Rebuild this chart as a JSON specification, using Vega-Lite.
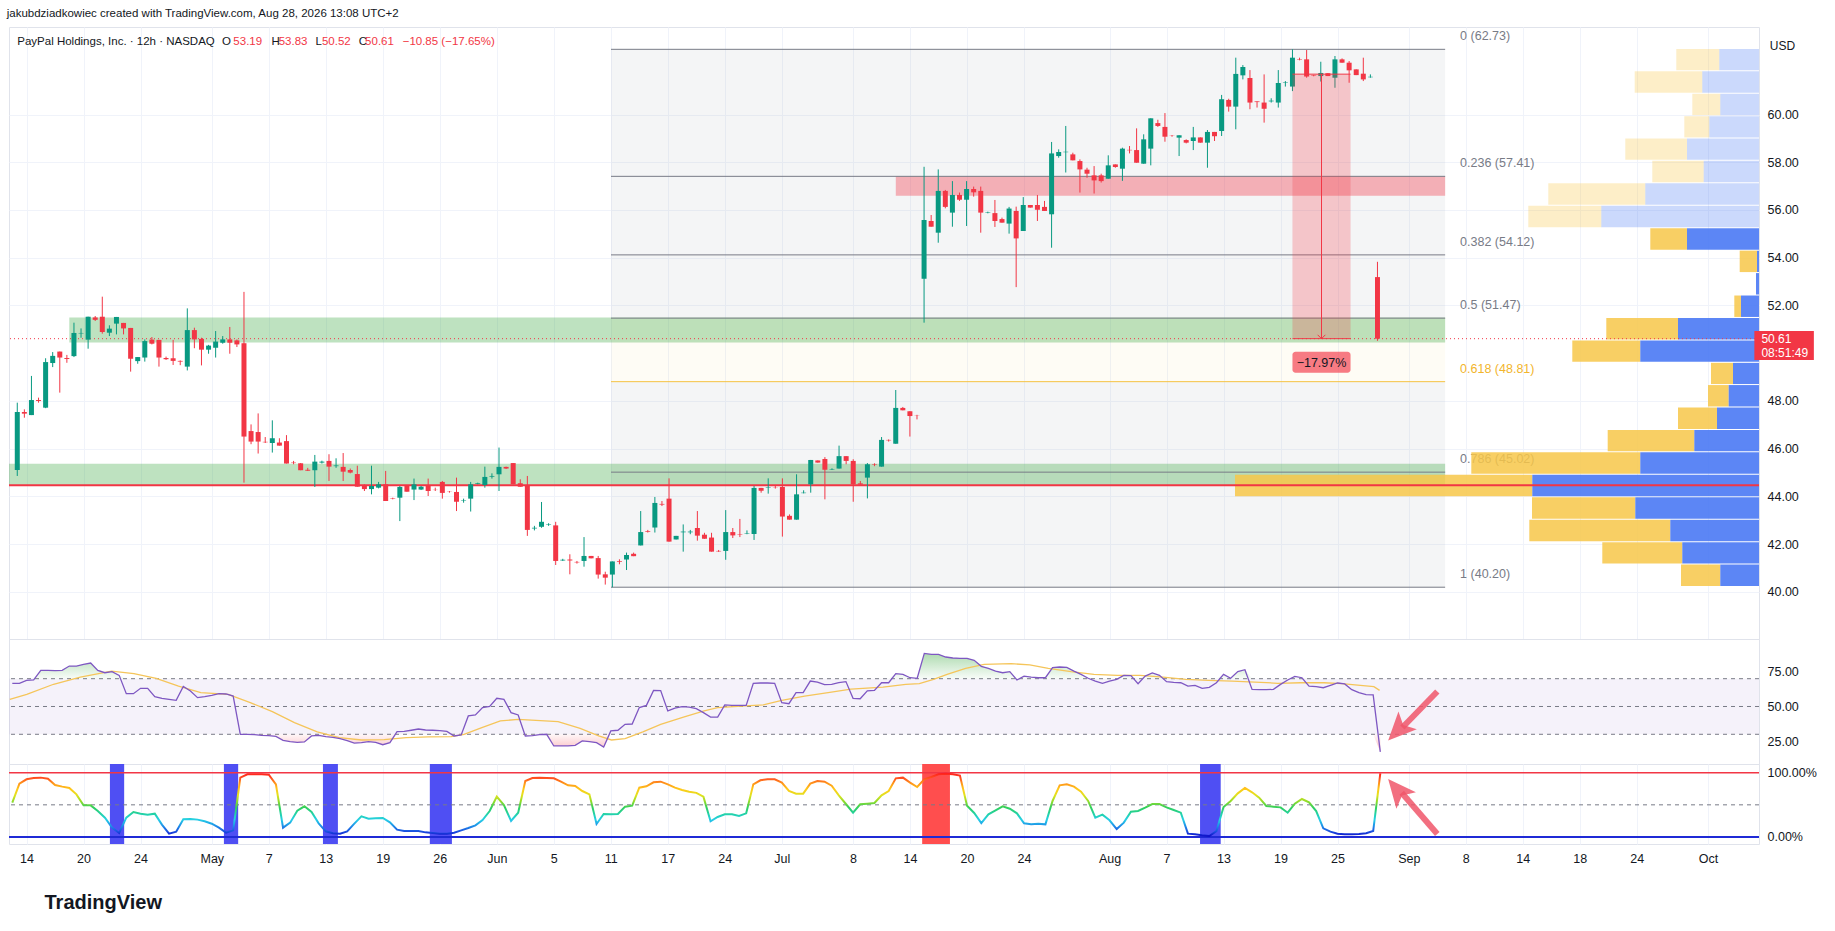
{
  "$schema": "https://vega.github.io/schema/vega-lite/v6.json",
  "background": "#ffffff",
  "padding": {"left": 6, "top": 8, "right": 0, "bottom": 0},
  "title": {"text": "jakubdziadkowiec created with TradingView.com, Aug 28, 2026 13:08 UTC+2", "anchor": "start", "fontSize": 11.5, "fontWeight": "normal", "color": "#131722", "offset": 7},
  "config": {
    "view": {"stroke": "#e0e3eb"},
    "font": "Liberation Sans",
    "axis": {"labelColor": "#131722", "labelFontSize": 12.5, "gridColor": "#f0f3fa", "domain": false, "ticks": false, "labelOverlap": false}
  },
  "spacing": 0,
  "bounds": "flush",
  "resolve": {"scale": {"x": "independent", "y": "independent"}},
  "datasets": {
    "bars": [
      {"i":1,"o":45.11,"h":47.93,"l":44.86,"c":47.54,"r":66.7,"k":53.4},
      {"i":2,"o":47.54,"h":47.65,"l":47.30,"c":47.47,"r":66.7,"k":82.9},
      {"i":3,"o":47.41,"h":49.05,"l":47.41,"c":48.04,"r":68.8,"k":89.7},
      {"i":4,"o":48.04,"h":48.14,"l":47.93,"c":48.00,"r":69.1,"k":91.7},
      {"i":5,"o":47.72,"h":49.79,"l":47.70,"c":49.63,"r":76.0,"k":92.3},
      {"i":6,"o":49.59,"h":50.05,"l":49.42,"c":49.89,"r":76.0,"k":90.7},
      {"i":7,"o":50.07,"h":50.07,"l":48.35,"c":49.82,"r":75.8,"k":80.8},
      {"i":8,"o":49.80,"h":49.93,"l":49.60,"c":49.76,"r":76.0,"k":78.3},
      {"i":9,"o":49.88,"h":51.28,"l":49.84,"c":50.85,"r":79.1,"k":76.2},
      {"i":10,"o":50.83,"h":51.04,"l":50.65,"c":50.85,"r":79.1,"k":66.3},
      {"i":11,"o":50.57,"h":51.53,"l":50.19,"c":51.53,"r":80.3,"k":49.2},
      {"i":12,"o":51.50,"h":51.56,"l":51.35,"c":51.40,"r":81.3,"k":49.2},
      {"i":13,"o":51.53,"h":52.37,"l":50.82,"c":50.89,"r":76.0,"k":40.4},
      {"i":14,"o":50.86,"h":51.17,"l":50.72,"c":51.03,"r":74.3,"k":30.0},
      {"i":15,"o":51.24,"h":51.52,"l":50.79,"c":51.52,"r":75.1,"k":14.5},
      {"i":16,"o":51.27,"h":51.27,"l":50.79,"c":51.04,"r":72.4,"k":6.2},
      {"i":17,"o":51.06,"h":51.06,"l":49.23,"c":49.77,"r":59.2,"k":30.0},
      {"i":18,"o":49.67,"h":49.84,"l":49.56,"c":49.84,"r":59.2,"k":38.9},
      {"i":19,"o":49.82,"h":50.58,"l":49.65,"c":50.51,"r":63.1,"k":36.3},
      {"i":20,"o":50.57,"h":50.68,"l":50.37,"c":50.40,"r":63.1,"k":34.7},
      {"i":21,"o":50.56,"h":50.56,"l":49.44,"c":49.82,"r":57.1,"k":36.3},
      {"i":22,"o":49.80,"h":49.86,"l":49.72,"c":49.75,"r":55.9,"k":19.2},
      {"i":23,"o":49.79,"h":50.56,"l":49.51,"c":49.68,"r":55.1,"k":5.2},
      {"i":24,"o":49.68,"h":49.70,"l":49.50,"c":49.65,"r":54.4,"k":8.3},
      {"i":25,"o":49.44,"h":51.88,"l":49.28,"c":50.97,"r":64.5,"k":27.5},
      {"i":26,"o":50.97,"h":51.07,"l":50.21,"c":50.58,"r":61.2,"k":28.0},
      {"i":27,"o":50.60,"h":50.65,"l":49.49,"c":50.15,"r":56.4,"k":27.0},
      {"i":28,"o":50.15,"h":50.35,"l":49.98,"c":50.32,"r":57.1,"k":24.4},
      {"i":29,"o":50.23,"h":50.93,"l":49.82,"c":50.49,"r":58.0,"k":20.7},
      {"i":30,"o":50.44,"h":50.72,"l":50.40,"c":50.58,"r":59.2,"k":14.5},
      {"i":31,"o":50.58,"h":51.10,"l":49.98,"c":50.44,"r":59.0,"k":6.7},
      {"i":32,"o":50.54,"h":50.58,"l":50.26,"c":50.37,"r":57.5,"k":10.3},
      {"i":33,"o":50.42,"h":52.57,"l":44.58,"c":46.51,"r":30.0,"k":92.3},
      {"i":34,"o":46.74,"h":47.02,"l":46.19,"c":46.30,"r":30.0,"k":97.4},
      {"i":35,"o":46.70,"h":47.48,"l":45.80,"c":46.30,"r":29.7,"k":97.4},
      {"i":36,"o":46.29,"h":46.49,"l":46.24,"c":46.27,"r":29.2,"k":97.4},
      {"i":37,"o":46.24,"h":47.19,"l":45.84,"c":46.44,"r":29.0,"k":96.9},
      {"i":38,"o":46.26,"h":46.44,"l":46.13,"c":46.13,"r":28.5,"k":81.9},
      {"i":39,"o":46.32,"h":46.57,"l":45.38,"c":45.38,"r":25.7,"k":14.5},
      {"i":40,"o":45.42,"h":45.49,"l":45.35,"c":45.40,"r":24.7,"k":22.3},
      {"i":41,"o":45.39,"h":45.40,"l":45.10,"c":45.10,"r":24.2,"k":40.9},
      {"i":42,"o":45.12,"h":45.20,"l":45.07,"c":45.08,"r":24.5,"k":47.7},
      {"i":43,"o":45.10,"h":45.74,"l":44.40,"c":45.46,"r":28.8,"k":38.9},
      {"i":44,"o":45.42,"h":45.50,"l":45.38,"c":45.46,"r":29.2,"k":21.2},
      {"i":45,"o":45.49,"h":45.77,"l":44.65,"c":45.25,"r":28.3,"k":8.8},
      {"i":46,"o":45.27,"h":45.60,"l":45.20,"c":45.30,"r":27.8,"k":5.7},
      {"i":47,"o":45.24,"h":45.82,"l":44.65,"c":45.04,"r":26.9,"k":5.2},
      {"i":48,"o":45.11,"h":45.17,"l":44.97,"c":45.00,"r":25.4,"k":8.8},
      {"i":49,"o":44.94,"h":45.29,"l":44.41,"c":44.41,"r":23.7,"k":20.7},
      {"i":50,"o":44.44,"h":44.51,"l":44.23,"c":44.31,"r":24.0,"k":32.1},
      {"i":51,"o":44.31,"h":45.29,"l":44.09,"c":44.44,"r":24.7,"k":28.5},
      {"i":52,"o":44.37,"h":44.61,"l":44.34,"c":44.51,"r":24.2,"k":29.0},
      {"i":53,"o":44.51,"h":45.07,"l":43.81,"c":43.81,"r":22.5,"k":29.5},
      {"i":54,"o":43.92,"h":43.95,"l":43.88,"c":43.90,"r":24.0,"k":22.8},
      {"i":55,"o":43.95,"h":44.44,"l":42.97,"c":44.40,"r":31.9,"k":11.4},
      {"i":56,"o":44.45,"h":44.45,"l":44.20,"c":44.20,"r":32.1,"k":9.3},
      {"i":57,"o":44.29,"h":44.75,"l":43.85,"c":44.51,"r":32.9,"k":9.3},
      {"i":58,"o":44.29,"h":44.44,"l":44.27,"c":44.41,"r":33.8,"k":9.3},
      {"i":59,"o":44.47,"h":44.75,"l":44.02,"c":44.23,"r":33.1,"k":7.2},
      {"i":60,"o":44.28,"h":44.37,"l":44.23,"c":44.27,"r":32.9,"k":6.2},
      {"i":61,"o":44.61,"h":44.65,"l":43.91,"c":44.15,"r":32.6,"k":5.2},
      {"i":62,"o":44.20,"h":44.23,"l":44.16,"c":44.19,"r":32.1,"k":5.2},
      {"i":63,"o":44.19,"h":44.79,"l":43.39,"c":43.78,"r":28.8,"k":6.7},
      {"i":64,"o":43.82,"h":43.91,"l":43.74,"c":43.84,"r":29.5,"k":10.3},
      {"i":65,"o":43.91,"h":44.61,"l":43.37,"c":44.51,"r":43.2,"k":14.0},
      {"i":66,"o":44.53,"h":44.58,"l":44.51,"c":44.56,"r":43.9,"k":18.1},
      {"i":67,"o":44.48,"h":45.25,"l":44.37,"c":44.82,"r":49.2,"k":26.4},
      {"i":68,"o":44.83,"h":44.97,"l":44.75,"c":44.86,"r":50.1,"k":40.4},
      {"i":69,"o":44.93,"h":46.05,"l":44.23,"c":45.24,"r":55.9,"k":62.7},
      {"i":70,"o":45.24,"h":45.25,"l":45.15,"c":45.17,"r":55.1,"k":49.7},
      {"i":71,"o":45.40,"h":45.40,"l":44.51,"c":44.51,"r":45.6,"k":24.9},
      {"i":72,"o":44.55,"h":44.72,"l":44.41,"c":44.41,"r":43.9,"k":37.8},
      {"i":73,"o":44.47,"h":44.86,"l":42.35,"c":42.60,"r":28.8,"k":87.1},
      {"i":74,"o":42.66,"h":42.77,"l":42.58,"c":42.69,"r":29.0,"k":91.7},
      {"i":75,"o":42.73,"h":43.77,"l":42.69,"c":42.94,"r":29.7,"k":92.3},
      {"i":76,"o":42.81,"h":42.88,"l":42.77,"c":42.83,"r":30.0,"k":91.7},
      {"i":77,"o":42.79,"h":42.94,"l":41.13,"c":41.30,"r":21.6,"k":91.2},
      {"i":78,"o":41.32,"h":41.39,"l":41.30,"c":41.35,"r":21.6,"k":86.0},
      {"i":79,"o":41.36,"h":41.58,"l":40.74,"c":41.32,"r":21.6,"k":80.3},
      {"i":80,"o":41.26,"h":41.30,"l":41.19,"c":41.24,"r":22.1,"k":79.3},
      {"i":81,"o":41.30,"h":42.30,"l":41.06,"c":41.51,"r":25.2,"k":71.5},
      {"i":82,"o":41.51,"h":41.51,"l":41.41,"c":41.41,"r":24.7,"k":66.3},
      {"i":83,"o":41.42,"h":41.51,"l":40.56,"c":40.73,"r":24.0,"k":20.2},
      {"i":84,"o":40.74,"h":40.85,"l":40.31,"c":40.60,"r":20.9,"k":35.7},
      {"i":85,"o":40.73,"h":41.28,"l":40.20,"c":41.28,"r":32.4,"k":35.2},
      {"i":86,"o":41.29,"h":41.37,"l":41.16,"c":41.26,"r":32.9,"k":35.7},
      {"i":87,"o":41.36,"h":41.65,"l":40.92,"c":41.55,"r":37.2,"k":47.2},
      {"i":88,"o":41.60,"h":41.65,"l":41.50,"c":41.50,"r":37.4,"k":48.7},
      {"i":89,"o":41.95,"h":43.39,"l":41.95,"c":42.51,"r":49.2,"k":76.7},
      {"i":90,"o":42.55,"h":42.60,"l":42.49,"c":42.52,"r":50.8,"k":78.8},
      {"i":91,"o":42.70,"h":43.98,"l":42.49,"c":43.73,"r":61.6,"k":85.0},
      {"i":92,"o":43.69,"h":43.81,"l":43.60,"c":43.66,"r":61.4,"k":86.0},
      {"i":93,"o":43.91,"h":44.76,"l":42.11,"c":42.11,"r":46.8,"k":81.9},
      {"i":94,"o":42.20,"h":42.35,"l":42.20,"c":42.35,"r":48.9,"k":76.7},
      {"i":95,"o":42.50,"h":42.83,"l":41.69,"c":42.53,"r":49.9,"k":73.1},
      {"i":96,"o":42.50,"h":42.60,"l":42.42,"c":42.53,"r":49.6,"k":70.5},
      {"i":97,"o":42.68,"h":43.39,"l":42.15,"c":42.36,"r":48.4,"k":68.6},
      {"i":98,"o":42.40,"h":42.48,"l":42.23,"c":42.23,"r":45.6,"k":62.7},
      {"i":99,"o":42.28,"h":42.48,"l":41.69,"c":41.69,"r":42.4,"k":24.4},
      {"i":100,"o":41.72,"h":41.76,"l":41.68,"c":41.70,"r":42.4,"k":31.1},
      {"i":101,"o":41.72,"h":43.43,"l":41.35,"c":42.51,"r":51.1,"k":35.2},
      {"i":102,"o":42.51,"h":42.68,"l":42.26,"c":42.37,"r":50.8,"k":35.2},
      {"i":103,"o":42.43,"h":43.06,"l":42.30,"c":42.41,"r":50.8,"k":32.6},
      {"i":104,"o":42.44,"h":42.58,"l":42.42,"c":42.46,"r":50.8,"k":36.8},
      {"i":105,"o":42.43,"h":44.44,"l":42.18,"c":44.36,"r":66.7,"k":81.9},
      {"i":106,"o":44.36,"h":44.36,"l":44.16,"c":44.24,"r":66.9,"k":88.1},
      {"i":107,"o":44.36,"h":44.76,"l":44.12,"c":44.38,"r":66.9,"k":89.7},
      {"i":108,"o":44.39,"h":44.44,"l":44.33,"c":44.38,"r":66.7,"k":89.7},
      {"i":109,"o":44.40,"h":44.76,"l":42.32,"c":43.16,"r":52.8,"k":84.5},
      {"i":110,"o":43.19,"h":43.25,"l":43.03,"c":43.03,"r":52.0,"k":71.5},
      {"i":111,"o":43.03,"h":44.93,"l":43.03,"c":44.09,"r":60.0,"k":67.4},
      {"i":112,"o":44.14,"h":44.26,"l":44.13,"c":44.16,"r":60.0,"k":67.4},
      {"i":113,"o":44.51,"h":45.53,"l":44.16,"c":45.53,"r":68.3,"k":82.9},
      {"i":114,"o":45.51,"h":45.51,"l":45.42,"c":45.42,"r":67.6,"k":87.1},
      {"i":115,"o":45.57,"h":45.65,"l":43.88,"c":45.12,"r":65.7,"k":86.0},
      {"i":116,"o":45.13,"h":45.18,"l":45.11,"c":45.15,"r":65.9,"k":79.8},
      {"i":117,"o":45.17,"h":46.13,"l":45.17,"c":45.69,"r":67.1,"k":64.8},
      {"i":118,"o":45.69,"h":45.69,"l":45.35,"c":45.49,"r":67.9,"k":51.3},
      {"i":119,"o":45.49,"h":45.56,"l":43.78,"c":44.51,"r":55.9,"k":37.8},
      {"i":120,"o":44.55,"h":44.65,"l":44.50,"c":44.50,"r":55.6,"k":50.8},
      {"i":121,"o":44.79,"h":45.40,"l":43.92,"c":45.35,"r":61.2,"k":51.8},
      {"i":122,"o":45.35,"h":45.39,"l":45.27,"c":45.33,"r":61.6,"k":52.9},
      {"i":123,"o":45.25,"h":46.49,"l":45.25,"c":46.37,"r":67.1,"k":64.8},
      {"i":124,"o":46.37,"h":46.39,"l":46.30,"c":46.35,"r":67.1,"k":71.5},
      {"i":125,"o":46.21,"h":48.46,"l":46.21,"c":47.71,"r":73.6,"k":91.2},
      {"i":126,"o":47.71,"h":47.75,"l":47.61,"c":47.61,"r":73.1,"k":92.3},
      {"i":127,"o":47.57,"h":47.57,"l":46.51,"c":47.37,"r":70.7,"k":84.5},
      {"i":128,"o":47.41,"h":47.42,"l":47.23,"c":47.40,"r":70.3,"k":77.7},
      {"i":129,"o":53.12,"h":57.81,"l":51.28,"c":55.58,"r":88.2,"k":89.7},
      {"i":130,"o":55.54,"h":55.79,"l":55.30,"c":55.30,"r":87.5,"k":93.3},
      {"i":131,"o":55.05,"h":57.70,"l":54.63,"c":56.80,"r":87.5,"k":97.4},
      {"i":132,"o":56.80,"h":56.84,"l":56.07,"c":56.13,"r":85.6,"k":98.5},
      {"i":133,"o":55.89,"h":57.21,"l":55.30,"c":56.63,"r":84.9,"k":97.4},
      {"i":134,"o":56.63,"h":56.73,"l":56.38,"c":56.43,"r":84.6,"k":95.4},
      {"i":135,"o":56.43,"h":57.21,"l":55.33,"c":56.88,"r":84.6,"k":48.7},
      {"i":136,"o":56.88,"h":56.98,"l":56.56,"c":56.74,"r":83.2,"k":37.3},
      {"i":137,"o":56.80,"h":56.98,"l":55.05,"c":55.89,"r":78.9,"k":21.7},
      {"i":138,"o":55.88,"h":55.93,"l":55.86,"c":55.90,"r":77.5,"k":35.2},
      {"i":139,"o":55.87,"h":56.42,"l":55.29,"c":55.54,"r":75.5,"k":41.4},
      {"i":140,"o":55.62,"h":55.68,"l":55.47,"c":55.47,"r":74.3,"k":47.7},
      {"i":141,"o":55.43,"h":56.13,"l":55.01,"c":56.06,"r":75.1,"k":44.0},
      {"i":142,"o":55.96,"h":56.14,"l":52.77,"c":54.81,"r":69.1,"k":36.8},
      {"i":143,"o":55.12,"h":56.54,"l":55.12,"c":56.21,"r":71.9,"k":21.2},
      {"i":144,"o":56.21,"h":56.21,"l":56.10,"c":56.10,"r":71.2,"k":19.7},
      {"i":145,"o":56.21,"h":56.63,"l":55.54,"c":56.01,"r":70.7,"k":20.7},
      {"i":146,"o":56.13,"h":56.38,"l":55.96,"c":55.96,"r":70.7,"k":19.7},
      {"i":147,"o":55.82,"h":58.85,"l":54.42,"c":58.37,"r":77.9,"k":56.0},
      {"i":148,"o":58.26,"h":58.54,"l":58.19,"c":58.43,"r":78.4,"k":80.3},
      {"i":149,"o":58.42,"h":59.52,"l":57.57,"c":58.44,"r":78.2,"k":81.9},
      {"i":150,"o":58.33,"h":58.40,"l":58.08,"c":58.08,"r":75.5,"k":78.3},
      {"i":151,"o":58.05,"h":58.12,"l":56.73,"c":57.70,"r":73.1,"k":70.5},
      {"i":152,"o":57.69,"h":57.77,"l":57.35,"c":57.52,"r":70.3,"k":56.0},
      {"i":153,"o":57.45,"h":57.84,"l":56.69,"c":57.24,"r":68.3,"k":30.0},
      {"i":154,"o":57.45,"h":57.52,"l":57.15,"c":57.21,"r":66.7,"k":34.7},
      {"i":155,"o":57.31,"h":58.29,"l":57.31,"c":57.87,"r":68.3,"k":25.9},
      {"i":156,"o":57.91,"h":57.91,"l":57.77,"c":57.80,"r":69.5,"k":12.4},
      {"i":157,"o":57.73,"h":58.61,"l":57.22,"c":58.57,"r":72.4,"k":22.3},
      {"i":158,"o":58.52,"h":58.68,"l":58.37,"c":58.50,"r":72.2,"k":39.4},
      {"i":159,"o":58.51,"h":59.42,"l":57.98,"c":57.98,"r":66.4,"k":40.4},
      {"i":160,"o":57.94,"h":59.17,"l":57.94,"c":58.96,"r":71.9,"k":45.6},
      {"i":161,"o":58.57,"h":59.84,"l":57.87,"c":59.84,"r":74.1,"k":51.3},
      {"i":162,"o":59.64,"h":59.78,"l":59.48,"c":59.52,"r":72.4,"k":51.3},
      {"i":163,"o":59.48,"h":60.06,"l":58.86,"c":59.07,"r":67.9,"k":46.1},
      {"i":164,"o":59.12,"h":59.14,"l":59.07,"c":59.11,"r":67.4,"k":42.0},
      {"i":165,"o":59.03,"h":59.13,"l":58.26,"c":59.13,"r":67.1,"k":37.8},
      {"i":166,"o":58.93,"h":58.96,"l":58.79,"c":58.82,"r":64.7,"k":5.2},
      {"i":167,"o":58.89,"h":59.48,"l":58.51,"c":59.04,"r":65.2,"k":4.1},
      {"i":168,"o":59.04,"h":59.04,"l":58.82,"c":58.82,"r":63.1,"k":2.6},
      {"i":169,"o":58.82,"h":59.35,"l":57.77,"c":59.27,"r":63.8,"k":1.5},
      {"i":170,"o":59.27,"h":59.27,"l":58.89,"c":59.09,"r":67.1,"k":9.3},
      {"i":171,"o":59.31,"h":60.82,"l":59.10,"c":60.64,"r":73.1,"k":46.6},
      {"i":172,"o":60.61,"h":60.66,"l":60.12,"c":60.33,"r":70.3,"k":56.0},
      {"i":173,"o":60.33,"h":62.38,"l":59.38,"c":61.70,"r":75.1,"k":67.9},
      {"i":174,"o":61.64,"h":62.07,"l":61.47,"c":61.99,"r":76.5,"k":76.2},
      {"i":175,"o":61.53,"h":61.86,"l":60.22,"c":60.50,"r":62.3,"k":69.5},
      {"i":176,"o":60.55,"h":60.55,"l":60.29,"c":60.52,"r":62.1,"k":61.2},
      {"i":177,"o":60.50,"h":61.68,"l":59.66,"c":60.24,"r":62.1,"k":48.2},
      {"i":178,"o":60.55,"h":60.68,"l":60.50,"c":60.58,"r":62.3,"k":47.2},
      {"i":179,"o":60.50,"h":61.86,"l":60.29,"c":61.32,"r":65.9,"k":46.1},
      {"i":180,"o":61.33,"h":61.40,"l":61.17,"c":61.35,"r":69.1,"k":37.8},
      {"i":181,"o":61.17,"h":62.73,"l":60.98,"c":62.38,"r":71.7,"k":51.8},
      {"i":182,"o":62.32,"h":62.38,"l":62.27,"c":62.30,"r":70.7,"k":59.1},
      {"i":183,"o":62.31,"h":62.70,"l":61.54,"c":61.59,"r":64.7,"k":53.9},
      {"i":184,"o":61.64,"h":61.66,"l":61.60,"c":61.62,"r":64.3,"k":40.4},
      {"i":185,"o":61.61,"h":62.21,"l":61.38,"c":61.74,"r":63.5,"k":13.5},
      {"i":186,"o":61.73,"h":61.73,"l":61.61,"c":61.61,"r":65.2,"k":8.3},
      {"i":187,"o":61.54,"h":62.45,"l":61.12,"c":62.31,"r":66.9,"k":5.2},
      {"i":188,"o":62.31,"h":62.35,"l":62.17,"c":62.17,"r":66.2,"k":4.1},
      {"i":189,"o":62.17,"h":62.24,"l":61.33,"c":61.85,"r":62.1,"k":4.1},
      {"i":190,"o":61.89,"h":61.89,"l":61.65,"c":61.65,"r":60.0,"k":4.7},
      {"i":191,"o":61.71,"h":62.38,"l":61.40,"c":61.47,"r":58.5,"k":5.7},
      {"i":192,"o":61.56,"h":61.68,"l":61.54,"c":61.58,"r":58.3,"k":9.3},
      {"i":193,"o":53.19,"h":53.83,"l":50.52,"c":50.61,"r":17.3,"k":99.0}
    ],
    "rma": [
      {"i":0.65,"m":55.1},{"i":3.03,"m":58.7},{"i":6.79,"m":66.0},{"i":10.55,"m":71.2},{"i":14.93,"m":75.5},
      {"i":18.07,"m":73.6},{"i":21.2,"m":70.3},{"i":24.33,"m":64.7},{"i":27.46,"m":60.0},{"i":31.3,"m":58.7},
      {"i":34.4,"m":52.8},{"i":37.5,"m":46.3},{"i":40.6,"m":38.4},{"i":43.8,"m":31.7},{"i":46.9,"m":27.6},
      {"i":50,"m":25.9},{"i":53.2,"m":26.1},{"i":56.3,"m":27.6},{"i":59.4,"m":28.1},{"i":62.6,"m":28.3},
      {"i":64.4,"m":30.0},{"i":66.9,"m":34.8},{"i":69.5,"m":39.6},{"i":72,"m":40.8},{"i":74.5,"m":40.0},
      {"i":77.6,"m":39.1},{"i":80.7,"m":34.3},{"i":83.3,"m":28.8},{"i":85.1,"m":25.9},{"i":87,"m":26.9},
      {"i":89.5,"m":31.7},{"i":92,"m":37.2},{"i":95.2,"m":42.4},{"i":98.1,"m":46.8},{"i":100,"m":49.2},
      {"i":103.9,"m":50.4},{"i":106.4,"m":51.1},{"i":109,"m":54.4},{"i":112.2,"m":57.5},{"i":115.5,"m":60.0},
      {"i":118.7,"m":62.5},{"i":123.2,"m":64.0},{"i":126.4,"m":65.9},{"i":128.3,"m":66.4},{"i":130.3,"m":69.5},
      {"i":132.2,"m":73.1},{"i":134.8,"m":77.5},{"i":137.4,"m":80.3},{"i":141.2,"m":80.8},{"i":143.8,"m":79.9},
      {"i":146.4,"m":77.5},{"i":149.6,"m":75.1},{"i":152.8,"m":73.1},{"i":156.1,"m":72.4},{"i":159.3,"m":72.4},
      {"i":162.5,"m":71.2},{"i":165.7,"m":69.5},{"i":168.9,"m":68.8},{"i":172.2,"m":68.3},{"i":175.4,"m":67.6},
      {"i":178.6,"m":66.7},{"i":181.8,"m":67.1},{"i":185.1,"m":67.1},{"i":187.6,"m":66.4},{"i":190.2,"m":65.2},
      {"i":192.1,"m":64.3},{"i":192.9,"m":61.6}
    ],
    "vp": [
      {"lo":61.85,"hi":62.79,"up":39.7,"all":82.7,"va":false},
      {"lo":60.91,"hi":61.85,"up":56.7,"all":124.3,"va":false},
      {"lo":59.97,"hi":60.91,"up":38.7,"all":66.7,"va":false},
      {"lo":59.04,"hi":59.97,"up":49.7,"all":74.7,"va":false},
      {"lo":58.10,"hi":59.04,"up":72,"all":133.7,"va":false},
      {"lo":57.16,"hi":58.10,"up":55.3,"all":106.7,"va":false},
      {"lo":56.22,"hi":57.16,"up":113.7,"all":210.7,"va":false},
      {"lo":55.28,"hi":56.22,"up":157.7,"all":230.7,"va":false},
      {"lo":54.34,"hi":55.28,"up":72,"all":108.7,"va":true},
      {"lo":53.40,"hi":54.34,"up":2,"all":19.3,"va":true},
      {"lo":52.46,"hi":53.40,"up":3,"all":3,"va":true},
      {"lo":51.52,"hi":52.46,"up":18,"all":24.7,"va":true},
      {"lo":50.58,"hi":51.52,"up":81,"all":152.7,"va":true},
      {"lo":49.64,"hi":50.58,"up":118.7,"all":186.7,"va":true},
      {"lo":48.71,"hi":49.64,"up":26,"all":48,"va":true},
      {"lo":47.77,"hi":48.71,"up":30.3,"all":51,"va":true},
      {"lo":46.83,"hi":47.77,"up":42,"all":81,"va":true},
      {"lo":45.89,"hi":46.83,"up":64.7,"all":151.3,"va":true},
      {"lo":44.95,"hi":45.89,"up":118.7,"all":287.7,"va":true},
      {"lo":44.01,"hi":44.95,"up":226.7,"all":524,"va":true},
      {"lo":43.07,"hi":44.01,"up":123.7,"all":227,"va":true},
      {"lo":42.13,"hi":43.07,"up":88.7,"all":229.7,"va":true},
      {"lo":41.19,"hi":42.13,"up":76.7,"all":156.7,"va":true},
      {"lo":40.25,"hi":41.19,"up":38.7,"all":78,"va":true}
    ],
    "fib": [
      {"lvl":"0","p":62.73,"t":"0 (62.73)"},
      {"lvl":"0.236","p":57.41,"t":"0.236 (57.41)"},
      {"lvl":"0.382","p":54.12,"t":"0.382 (54.12)"},
      {"lvl":"0.5","p":51.47,"t":"0.5 (51.47)"},
      {"lvl":"0.618","p":48.81,"t":"0.618 (48.81)"},
      {"lvl":"0.786","p":45.02,"t":"0.786 (45.02)"},
      {"lvl":"1","p":40.20,"t":"1 (40.20)"}
    ],
    "fibband": [
      {"p1":62.73,"p2":57.41,"z":"g"},
      {"p1":57.41,"p2":54.12,"z":"g"},
      {"p1":54.12,"p2":51.47,"z":"g"},
      {"p1":51.47,"p2":48.81,"z":"y"},
      {"p1":48.81,"p2":45.02,"z":"g"},
      {"p1":45.02,"p2":40.20,"z":"g"}
    ],
    "zones": [
      {"x1":0.537,"x2":202.1,"p1":45.37,"p2":44.47,"z":"s"},
      {"x1":9,"x2":202.1,"p1":51.5,"p2":50.45,"z":"s"},
      {"x1":125,"x2":202.1,"p1":57.41,"p2":56.6,"z":"r"}
    ],
    "meas": [{"x1":181.0,"x2":189.2,"xm":185.1,"top":61.69,"bot":50.61,"t":"−17.97%"}],
    "hdr": [
      {"i":1.0,"t":"PayPal Holdings, Inc. · 12h · NASDAQ","k":"n"},
      {"i":29.9,"t":"O","k":"n"},{"i":31.5,"t":"53.19","k":"v"},
      {"i":36.9,"t":"H","k":"n"},{"i":37.9,"t":"53.83","k":"v"},
      {"i":43.1,"t":"L","k":"n"},{"i":44.0,"t":"50.52","k":"v"},
      {"i":49.2,"t":"C","k":"n"},{"i":50.1,"t":"50.61","k":"v"},
      {"i":55.4,"t":"−10.85 (−17.65%)","k":"v"}
    ],
    "plab": [{"t":"50.61","p":50.61},{"t":"08:51:49","p":50.01}],
    "lv": [{"v":70},{"v":50},{"v":30}],
    "hl": [
      {"s":14.7,"e":16.7,"z":"os"},{"s":30.7,"e":32.7,"z":"os"},{"s":44.6,"e":46.7,"z":"os"},
      {"s":59.6,"e":62.7,"z":"os"},{"s":128.7,"e":132.6,"z":"ob"},{"s":167.7,"e":170.6,"z":"os"}
    ],
    "arr1": [{"i1":201,"v1":60.8,"i3":196.1,"v3":34.9,"i2":194.1,"v2":25.5}],
    "arr2": [{"i1":201,"v1":4.7,"i3":196.0,"v3":68.9,"i2":194.1,"v2":90.2}]
  },
  "vconcat": [
    {
      "width": 1750,
      "height": 612,
      "resolve": {"scale": {"x": "independent"}},
      "layer": [
        {
          "layer": [
            {
              "data": {"name": "fibband"},
              "mark": {"type": "rect"},
              "encoding": {
                "x": {"datum": 85.03, "type": "quantitative", "scale": {"domain": [0.537, 246.15], "nice": false, "zero": false},
                  "axis": {"values": [3,11,19,29,37,45,53,61,69,77,85,93,101,109,119,127,135,143,155,163,171,179,187,197,205,213,221,229,239], "labels": false, "grid": true, "title": null}},
                "x2": {"datum": 202.1},
                "y": {"field": "p1", "type": "quantitative", "scale": {"domain": [38.031, 63.665], "nice": false, "zero": false},
                  "axis": {"orient": "right", "values": [40,42,44,46,48,52,54,56,58,60], "format": ".2f", "grid": true, "labelPadding": 8,
                    "title": "USD", "titleAngle": 0, "titleX": 23, "titleY": 18, "titleAlign": "center", "titleBaseline": "middle",
                    "titleFontSize": 12, "titleFontWeight": "normal", "titleColor": "#131722"}},
                "y2": {"field": "p2"},
                "color": {"condition": {"test": "datum.z == 'y'", "value": "#f5c242"}, "value": "#787b86"},
                "opacity": {"condition": {"test": "datum.z == 'y'", "value": 0.05}, "value": 0.08}
              }
            },
            {
              "data": {"name": "zones"},
              "mark": {"type": "rect", "opacity": 0.36},
              "encoding": {
                "x": {"field": "x1", "type": "quantitative", "scale": {"domain": [0.537, 246.15], "nice": false, "zero": false}},
                "x2": {"field": "x2"},
                "y": {"field": "p1", "type": "quantitative", "scale": {"domain": [38.031, 63.665], "nice": false, "zero": false}},
                "y2": {"field": "p2"},
                "color": {"condition": {"test": "datum.z == 'r'", "value": "#f23645"}, "value": "#4caf50"}
              }
            },
            {
              "data": {"name": "fib"},
              "mark": {"type": "rule", "strokeWidth": 1},
              "encoding": {
                "x": {"datum": 85.03, "type": "quantitative", "scale": {"domain": [0.537, 246.15], "nice": false, "zero": false}},
                "x2": {"datum": 202.1},
                "y": {"field": "p", "type": "quantitative", "scale": {"domain": [38.031, 63.665], "nice": false, "zero": false}},
                "color": {"condition": {"test": "datum.lvl == '0.618'", "value": "#f5c242"}, "value": "#787b86"}
              }
            },
            {
              "data": {"name": "fib"},
              "mark": {"type": "text", "align": "left", "baseline": "middle", "dy": -13, "fontSize": 12.5},
              "encoding": {
                "x": {"datum": 204.2, "type": "quantitative", "scale": {"domain": [0.537, 246.15], "nice": false, "zero": false}},
                "y": {"field": "p", "type": "quantitative", "scale": {"domain": [38.031, 63.665], "nice": false, "zero": false}},
                "text": {"field": "t"},
                "color": {"condition": {"test": "datum.lvl == '0.618'", "value": "#f2b52c"}, "value": "#787b86"}
              }
            }
          ]
        },
        {
          "data": {"name": "vp"},
          "layer": [
            {
              "mark": {"type": "rect", "color": "#f7c749", "y2Offset": 1},
              "encoding": {
                "x": {"field": "all", "type": "quantitative", "scale": {"domain": [0, 1750], "reverse": true, "nice": false, "zero": false}, "axis": null},
                "x2": {"field": "up"},
                "y": {"field": "lo", "type": "quantitative", "scale": {"domain": [38.031, 63.665], "nice": false, "zero": false}},
                "y2": {"field": "hi"},
                "opacity": {"condition": {"test": "datum.va", "value": 0.85}, "value": 0.3}
              }
            },
            {
              "mark": {"type": "rect", "color": "#4071f3", "y2Offset": 1},
              "encoding": {
                "x": {"field": "up", "type": "quantitative", "scale": {"domain": [0, 1750], "reverse": true, "nice": false, "zero": false}, "axis": null},
                "x2": {"datum": 0},
                "y": {"field": "lo", "type": "quantitative", "scale": {"domain": [38.031, 63.665], "nice": false, "zero": false}},
                "y2": {"field": "hi"},
                "opacity": {"condition": {"test": "datum.va", "value": 0.85}, "value": 0.27}
              }
            }
          ]
        },
        {
          "layer": [
            {
              "data": {"values": [{}]},
              "mark": {"type": "rule", "color": "#f23645", "strokeWidth": 2},
              "encoding": {"y": {"datum": 44.47, "type": "quantitative", "scale": {"domain": [38.031, 63.665], "nice": false, "zero": false}}}
            },
            {
              "data": {"values": [{}]},
              "mark": {"type": "rule", "color": "#f23645", "strokeWidth": 1, "strokeDash": [1, 3]},
              "encoding": {"y": {"datum": 50.61, "type": "quantitative", "scale": {"domain": [38.031, 63.665], "nice": false, "zero": false}}}
            },
            {
              "data": {"name": "bars"},
              "mark": {"type": "rule", "strokeWidth": 1},
              "encoding": {
                "x": {"field": "i", "type": "quantitative", "scale": {"domain": [0.537, 246.15], "nice": false, "zero": false}, "axis": null},
                "y": {"field": "l", "type": "quantitative", "scale": {"domain": [38.031, 63.665], "nice": false, "zero": false}},
                "y2": {"field": "h"},
                "color": {"condition": {"test": "datum.c >= datum.o", "value": "#089981"}, "value": "#f23645"}
              }
            },
            {
              "data": {"name": "bars"},
              "mark": {"type": "bar", "width": 5},
              "encoding": {
                "x": {"field": "i", "type": "quantitative", "scale": {"domain": [0.537, 246.15], "nice": false, "zero": false}, "axis": null},
                "y": {"field": "o", "type": "quantitative", "scale": {"domain": [38.031, 63.665], "nice": false, "zero": false}},
                "y2": {"field": "c"},
                "color": {"condition": {"test": "datum.c >= datum.o", "value": "#089981"}, "value": "#f23645"}
              }
            },
            {
              "data": {"name": "meas"},
              "layer": [
                {
                  "mark": {"type": "rect", "color": "#f23645", "opacity": 0.25},
                  "encoding": {
                    "x": {"field": "x1", "type": "quantitative", "scale": {"domain": [0.537, 246.15], "nice": false, "zero": false}, "axis": null},
                    "x2": {"field": "x2"},
                    "y": {"field": "top", "type": "quantitative", "scale": {"domain": [38.031, 63.665], "nice": false, "zero": false}},
                    "y2": {"field": "bot"}
                  }
                },
                {
                  "mark": {"type": "rule", "color": "#f23645", "strokeWidth": 1},
                  "encoding": {
                    "x": {"field": "x1", "type": "quantitative", "axis": null},
                    "x2": {"field": "x2"},
                    "y": {"field": "top", "type": "quantitative"}
                  }
                },
                {
                  "mark": {"type": "rule", "color": "#f23645", "strokeWidth": 1},
                  "encoding": {
                    "x": {"field": "x1", "type": "quantitative", "axis": null},
                    "x2": {"field": "x2"},
                    "y": {"field": "bot", "type": "quantitative"}
                  }
                },
                {
                  "mark": {"type": "rule", "color": "#f23645", "strokeWidth": 1},
                  "encoding": {
                    "x": {"field": "xm", "type": "quantitative", "axis": null},
                    "y": {"field": "top", "type": "quantitative"},
                    "y2": {"field": "bot"}
                  }
                },
                {
                  "mark": {"type": "point", "shape": "M-1,-1L0,0L1,-1", "filled": false, "color": "#f23645", "strokeWidth": 1, "size": 60, "opacity": 1},
                  "encoding": {
                    "x": {"field": "xm", "type": "quantitative", "axis": null},
                    "y": {"field": "bot", "type": "quantitative"}
                  }
                },
                {
                  "mark": {"type": "rect", "color": "#f23645", "opacity": 0.65, "cornerRadius": 3, "yOffset": 13, "y2Offset": 34},
                  "encoding": {
                    "x": {"field": "x1", "type": "quantitative", "axis": null},
                    "x2": {"field": "x2"},
                    "y": {"field": "bot", "type": "quantitative"},
                    "y2": {"field": "bot"}
                  }
                },
                {
                  "mark": {"type": "text", "dy": 24, "fontSize": 12.5, "color": "#131722", "align": "center", "baseline": "middle"},
                  "encoding": {
                    "x": {"field": "xm", "type": "quantitative", "axis": null},
                    "y": {"field": "bot", "type": "quantitative"},
                    "text": {"field": "t"}
                  }
                }
              ]
            },
            {
              "data": {"name": "hdr"},
              "mark": {"type": "text", "align": "left", "baseline": "middle", "fontSize": 11.5},
              "encoding": {
                "x": {"field": "i", "type": "quantitative", "scale": {"domain": [0.537, 246.15], "nice": false, "zero": false}, "axis": null},
                "y": {"datum": 63.04, "type": "quantitative"},
                "text": {"field": "t"},
                "color": {"condition": {"test": "datum.k == 'v'", "value": "#f23645"}, "value": "#131722"}
              }
            },
            {
              "data": {"values": [{}]},
              "mark": {"type": "rect", "color": "#f23645", "clip": false},
              "encoding": {
                "x": {"datum": 246.2, "type": "quantitative", "axis": null},
                "x2": {"datum": 254.6},
                "y": {"datum": 50.93, "type": "quantitative"},
                "y2": {"datum": 49.72}
              }
            },
            {
              "data": {"name": "plab"},
              "mark": {"type": "text", "align": "left", "baseline": "middle", "fontSize": 12, "color": "#ffffff", "clip": false},
              "encoding": {
                "x": {"datum": 247.2, "type": "quantitative", "axis": null},
                "y": {"field": "p", "type": "quantitative"},
                "text": {"field": "t"}
              }
            }
          ]
        }
      ]
    },
    {
      "width": 1750,
      "height": 125,
      "resolve": {"scale": {"y": "independent"}},
      "layer": [
        {
          "layer": [
            {
              "data": {"values": [{}]},
              "mark": {"type": "rect", "color": "#7e57c2", "opacity": 0.08},
              "encoding": {
                "x": {"datum": 0.537, "type": "quantitative", "scale": {"domain": [0.537, 246.15], "nice": false, "zero": false},
                  "axis": {"values": [3,11,19,29,37,45,53,61,69,77,85,93,101,109,119,127,135,143,155,163,171,179,187,197,205,213,221,229,239], "labels": false, "grid": true, "title": null}},
                "x2": {"datum": 246.15},
                "y": {"datum": 70, "type": "quantitative", "scale": {"domain": [8.63, 98.56], "nice": false, "zero": false},
                  "axis": {"orient": "right", "values": [25, 50, 75], "format": ".2f", "labelPadding": 8, "grid": false, "title": null}},
                "y2": {"datum": 30}
              }
            },
            {
              "data": {"name": "lv"},
              "mark": {"type": "rule", "color": "#787b86", "strokeDash": [4, 4], "strokeWidth": 1},
              "encoding": {"y": {"field": "v", "type": "quantitative"}}
            }
          ]
        },
        {
          "data": {"name": "bars"},
          "mark": {"type": "area", "fill": {"gradient": "linear", "x1": 0, "y1": 0, "x2": 0, "y2": 1, "stops": [{"offset": 0, "color": "rgba(76,175,80,0.45)"}, {"offset": 1, "color": "rgba(76,175,80,0.04)"}]}},
          "encoding": {
            "x": {"field": "i", "type": "quantitative", "scale": {"domain": [0.537, 246.15], "nice": false, "zero": false}, "axis": null},
            "y": {"field": "r", "type": "quantitative", "scale": {"domain": [70, 98.56], "range": [39.7, 0], "clamp": true, "nice": false, "zero": false}, "axis": null},
            "y2": {"datum": 70}
          }
        },
        {
          "data": {"name": "bars"},
          "mark": {"type": "area", "fill": {"gradient": "linear", "x1": 0, "y1": 0, "x2": 0, "y2": 1, "stops": [{"offset": 0, "color": "rgba(242,54,69,0.04)"}, {"offset": 1, "color": "rgba(242,54,69,0.35)"}]}},
          "encoding": {
            "x": {"field": "i", "type": "quantitative", "scale": {"domain": [0.537, 246.15], "nice": false, "zero": false}, "axis": null},
            "y": {"field": "r", "type": "quantitative", "scale": {"domain": [8.63, 30], "range": [125, 95.3], "clamp": true, "nice": false, "zero": false}, "axis": null},
            "y2": {"datum": 30}
          }
        },
        {
          "layer": [
            {
              "data": {"name": "rma"},
              "mark": {"type": "line", "color": "#f5c55a", "strokeWidth": 1.3},
              "encoding": {
                "x": {"field": "i", "type": "quantitative", "scale": {"domain": [0.537, 246.15], "nice": false, "zero": false}, "axis": null},
                "y": {"field": "m", "type": "quantitative", "scale": {"domain": [8.63, 98.56], "nice": false, "zero": false}, "axis": null}
              }
            },
            {
              "data": {"name": "bars"},
              "mark": {"type": "line", "color": "#7e57c2", "strokeWidth": 1.3},
              "encoding": {
                "x": {"field": "i", "type": "quantitative", "axis": null},
                "y": {"field": "r", "type": "quantitative", "axis": null}
              }
            },
            {
              "data": {"name": "arr1"},
              "mark": {"type": "rule", "color": "#f0566a", "strokeWidth": 6, "opacity": 0.85},
              "encoding": {
                "x": {"field": "i1", "type": "quantitative", "axis": null},
                "y": {"field": "v1", "type": "quantitative", "axis": null},
                "x2": {"field": "i3"},
                "y2": {"field": "v3"}
              }
            },
            {
              "data": {"name": "arr1"},
              "mark": {"type": "point", "shape": "M0,0L1,2.2L0,1.7L-1,2.2Z", "filled": true, "color": "#f0566a", "opacity": 0.85, "size": 650, "angle": 224},
              "encoding": {
                "x": {"field": "i2", "type": "quantitative", "axis": null},
                "y": {"field": "v2", "type": "quantitative", "axis": null}
              }
            }
          ]
        }
      ]
    },
    {
      "width": 1750,
      "height": 80,
      "layer": [
        {
          "data": {"name": "hl"},
          "mark": {"type": "rect", "opacity": 0.95},
          "encoding": {
            "x": {"field": "s", "type": "quantitative", "scale": {"domain": [0.537, 246.15], "nice": false, "zero": false},
              "axis": {"values": [3,11,19,29,37,45,53,61,69,77,85,93,101,109,119,127,135,143,155,163,171,179,187,197,205,213,221,229,239],
                "labelExpr": "['14','20','24','May','7','13','19','26','Jun','5','11','17','24','Jul','8','14','20','24','Aug','7','13','19','25','Sep','8','14','18','24','Oct'][indexof([3,11,19,29,37,45,53,61,69,77,85,93,101,109,119,127,135,143,155,163,171,179,187,197,205,213,221,229,239], datum.value)]",
                "grid": true, "labelPadding": 8,
                "title": "TradingView", "titleAnchor": "start", "titleAlign": "left", "titleBaseline": "middle", "titleX": 35, "titleY": 58,
                "titleFontSize": 20, "titleFontWeight": "bold", "titleColor": "#131722"}},
            "x2": {"field": "e"},
            "y": {"datum": -10.9, "type": "quantitative", "scale": {"domain": [-10.9, 113.5], "nice": false, "zero": false},
              "axis": {"orient": "right", "values": [0, 50, 100], "labelExpr": "format(datum.value, '.2f') + '%'", "labelPadding": 8, "grid": false, "title": null}},
            "y2": {"datum": 113.5},
            "color": {"condition": {"test": "datum.z == 'ob'", "value": "#ff4444"}, "value": "#4646f2"}
          }
        },
        {
          "data": {"values": [{}]},
          "mark": {"type": "rule", "color": "#787b86", "strokeDash": [4, 4], "strokeWidth": 1},
          "encoding": {"y": {"datum": 50, "type": "quantitative"}}
        },
        {
          "data": {"values": [{}]},
          "mark": {"type": "rule", "color": "#f23645", "strokeWidth": 1.5},
          "encoding": {"y": {"datum": 100, "type": "quantitative"}}
        },
        {
          "data": {"values": [{}]},
          "mark": {"type": "rule", "color": "#1f2ad6", "strokeWidth": 2},
          "encoding": {"y": {"datum": 0, "type": "quantitative"}}
        },
        {
          "data": {"name": "bars"},
          "mark": {"type": "line", "strokeWidth": 2, "stroke": {"gradient": "linear", "x1": 0, "y1": 0, "x2": 0, "y2": 1, "stops": [
            {"offset": 0, "color": "#ff1e1e"},
            {"offset": 0.09, "color": "#ff5a1f"},
            {"offset": 0.15, "color": "#ff8f1a"},
            {"offset": 0.25, "color": "#ffc81a"},
            {"offset": 0.35, "color": "#e2e21f"},
            {"offset": 0.45, "color": "#8fdc2c"},
            {"offset": 0.55, "color": "#2fcf5f"},
            {"offset": 0.66, "color": "#22d2b0"},
            {"offset": 0.74, "color": "#25cfe6"},
            {"offset": 0.84, "color": "#1e8ee8"},
            {"offset": 0.93, "color": "#1a4fe0"},
            {"offset": 1, "color": "#1010c8"}]}},
          "encoding": {
            "x": {"field": "i", "type": "quantitative"},
            "y": {"field": "k", "type": "quantitative"}
          }
        },
        {
          "data": {"name": "arr2"},
          "mark": {"type": "rule", "color": "#f0566a", "strokeWidth": 6, "opacity": 0.85},
          "encoding": {
            "x": {"field": "i1", "type": "quantitative"},
            "y": {"field": "v1", "type": "quantitative"},
            "x2": {"field": "i3"},
            "y2": {"field": "v3"}
          }
        },
        {
          "data": {"name": "arr2"},
          "mark": {"type": "point", "shape": "M0,0L1,2.2L0,1.7L-1,2.2Z", "filled": true, "color": "#f0566a", "opacity": 0.85, "size": 650, "angle": 320},
          "encoding": {
            "x": {"field": "i2", "type": "quantitative"},
            "y": {"field": "v2", "type": "quantitative"}
          }
        }
      ]
    }
  ]
}
